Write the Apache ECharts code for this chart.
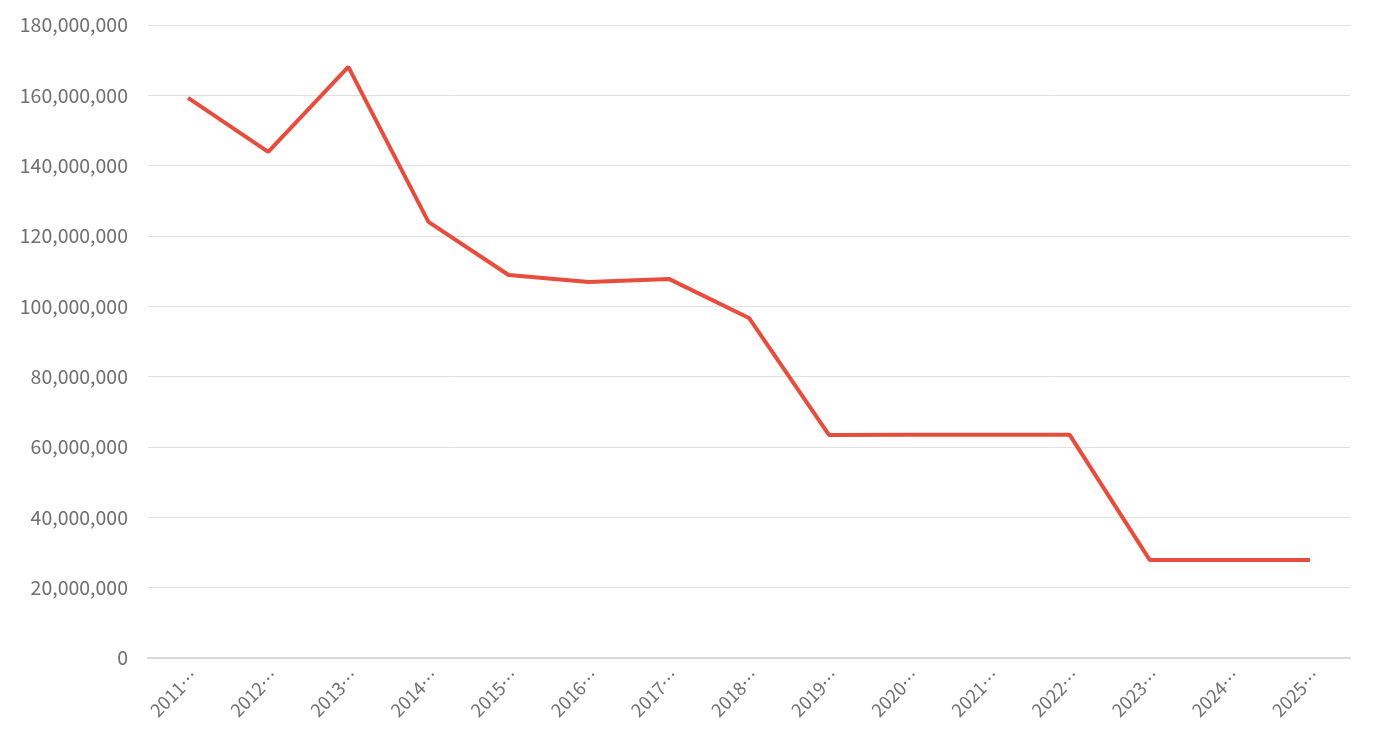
<!DOCTYPE html>
<html>
<head>
<meta charset="utf-8">
<script src="https://cdn.jsdelivr.net/npm/echarts@6/dist/echarts.min.js"></script>
<style>
  html, body { margin: 0; padding: 0; background: #fff; }
  #chart { width: 1378px; height: 747px; }
</style>
</head>
<body>
<div id="chart"></div>
<script>
// 年度ごとの値
var years = ['2011年度', '2012年度', '2013年度', '2014年度', '2015年度', '2016年度', '2017年度',
  '2018年度', '2019年度', '2020年度', '2021年度', '2022年度', '2023年度', '2024年度', '2025年度']
var values = [159300000, 143900000, 168100000, 124000000, 108900000, 106900000, 107800000,
  96700000, 63400000, 63500000, 63500000, 63500000, 27900000, 27900000, 27900000]

var chart = echarts.init(document.getElementById('chart'))
var font = '"Noto Sans CJK JP", "Noto Sans", sans-serif'

chart.setOption({
  animation: false,
  grid: {
    left: 148,
    right: 28,
    top: 25,
    bottom: 89
  },
  xAxis: {
    type: 'category',
    data: years,
    axisTick: { show: false },
    axisLine: { lineStyle: { color: '#d9d9d9', width: 2 } },
    axisLabel: {
      rotate: 45,
      interval: 0,
      margin: 8,
      verticalAlign: 'top',
      color: '#707070',
      fontSize: 18,
      fontFamily: font,
      // 長いラベルは省略表示
      formatter: function (v) { return v.slice(0, 4) + '…' }
    }
  },
  yAxis: {
    type: 'value',
    min: 0,
    max: 180000000,
    interval: 20000000,
    axisLine: { show: false },
    axisTick: { show: false },
    splitLine: { lineStyle: { color: '#e0e0e0', width: 1 } },
    axisLabel: {
      margin: 20,
      color: '#707070',
      fontSize: 19.5,
      fontFamily: font,
      formatter: function (v) { return v.toLocaleString('en-US') }
    }
  },
  series: [{
    type: 'line',
    data: values,
    showSymbol: false,
    lineStyle: { color: '#e84c3d', width: 4 },
    itemStyle: { color: '#e84c3d' }
  }]
})
</script>
</body>
</html>
